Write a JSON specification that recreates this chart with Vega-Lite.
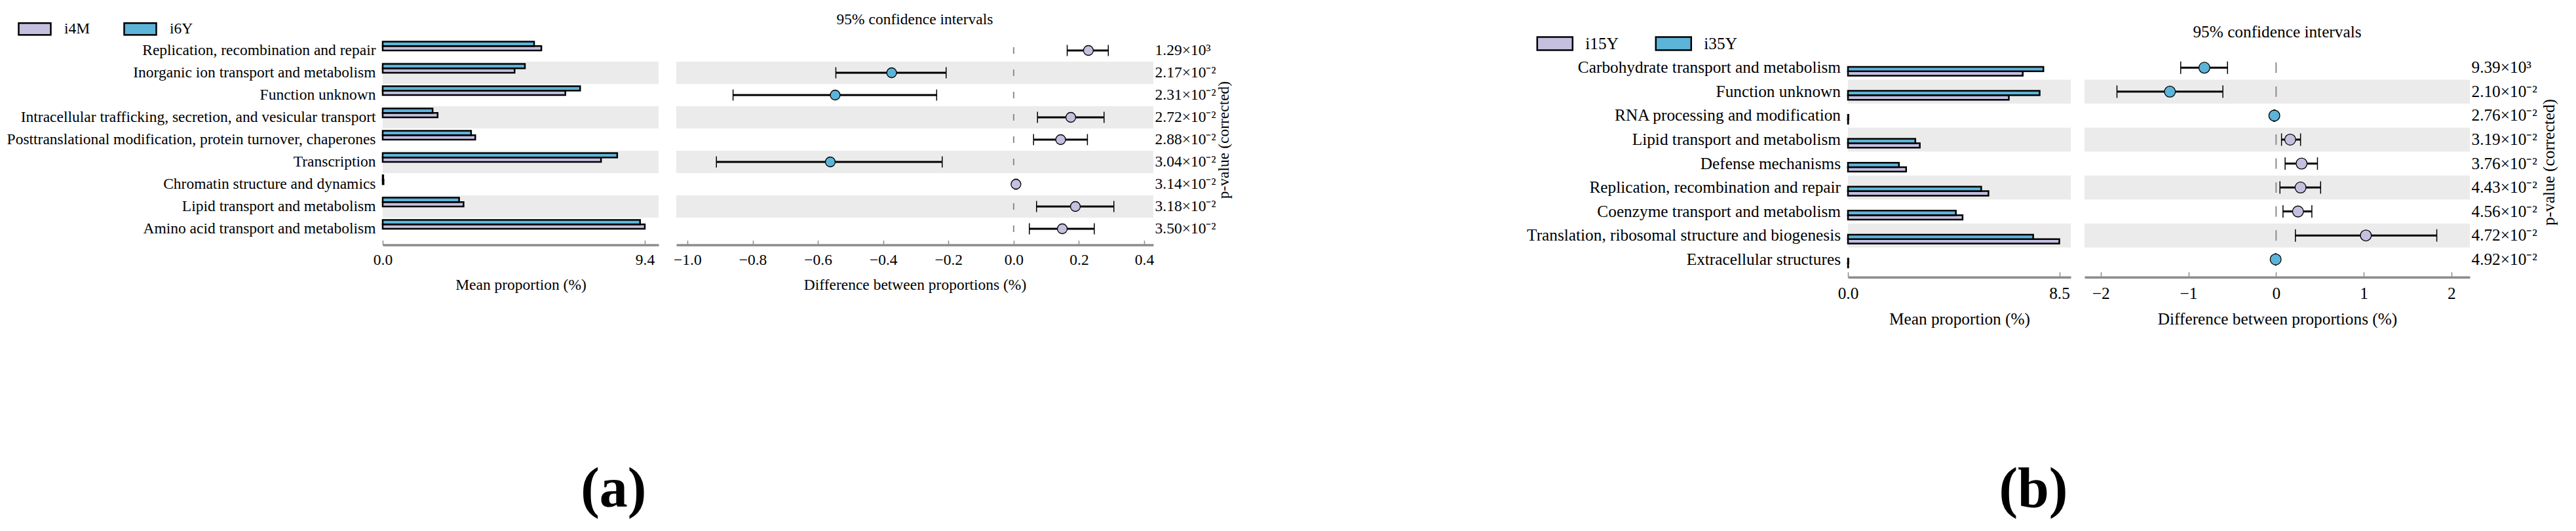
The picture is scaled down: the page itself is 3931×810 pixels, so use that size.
{
  "$schema": "https://vega.github.io/schema/vega-lite/v6.json",
  "padding": {"left": 10, "top": 16, "right": 5, "bottom": 5},
  "spacing": 450,
  "resolve": {"scale": {"fill": "independent"}, "legend": {"fill": "independent"}},
  "config": {
    "view": {"stroke": null},
    "font": "Liberation Serif",
    "axis": {"domainColor": "#8c8c8c", "domainWidth": 3.5, "tickColor": "#8c8c8c", "tickWidth": 1.5, "grid": false, "labelFlush": false, "labelColor": "black", "titleColor": "black", "titleFontWeight": "normal", "labelFont": "Liberation Serif", "titleFont": "Liberation Serif"},
    "title": {"font": "Liberation Serif", "fontWeight": "normal", "color": "black"},
    "legend": {"labelFont": "Liberation Serif", "labelColor": "black"}
  },
  "datasets": {
    "a_bar": [
      {"category": "Replication, recombination and repair", "group": "i4M", "value": 5.69},
      {"category": "Replication, recombination and repair", "group": "i6Y", "value": 5.43},
      {"category": "Inorganic ion transport and metabolism", "group": "i4M", "value": 4.73},
      {"category": "Inorganic ion transport and metabolism", "group": "i6Y", "value": 5.10},
      {"category": "Function unknown", "group": "i4M", "value": 6.55},
      {"category": "Function unknown", "group": "i6Y", "value": 7.08},
      {"category": "Intracellular trafficking, secretion, and vesicular transport", "group": "i4M", "value": 1.97},
      {"category": "Intracellular trafficking, secretion, and vesicular transport", "group": "i6Y", "value": 1.79},
      {"category": "Posttranslational modification, protein turnover, chaperones", "group": "i4M", "value": 3.32},
      {"category": "Posttranslational modification, protein turnover, chaperones", "group": "i6Y", "value": 3.17},
      {"category": "Transcription", "group": "i4M", "value": 7.83},
      {"category": "Transcription", "group": "i6Y", "value": 8.41},
      {"category": "Chromatin structure and dynamics", "group": "i4M", "value": 0.03},
      {"category": "Chromatin structure and dynamics", "group": "i6Y", "value": 0.02},
      {"category": "Lipid transport and metabolism", "group": "i4M", "value": 2.90},
      {"category": "Lipid transport and metabolism", "group": "i6Y", "value": 2.74},
      {"category": "Amino acid transport and metabolism", "group": "i4M", "value": 9.40},
      {"category": "Amino acid transport and metabolism", "group": "i6Y", "value": 9.23}
    ],
    "a_ci": [
      {"category": "Replication, recombination and repair", "pval": "1.29×10³", "diff": 0.229, "lo": 0.164, "hi": 0.290, "grp": "i4M", "shade": 0},
      {"category": "Inorganic ion transport and metabolism", "pval": "2.17×10⁻²", "diff": -0.374, "lo": -0.545, "hi": -0.207, "grp": "i6Y", "shade": 1},
      {"category": "Function unknown", "pval": "2.31×10⁻²", "diff": -0.547, "lo": -0.860, "hi": -0.236, "grp": "i6Y", "shade": 0},
      {"category": "Intracellular trafficking, secretion, and vesicular transport", "pval": "2.72×10⁻²", "diff": 0.175, "lo": 0.073, "hi": 0.277, "grp": "i4M", "shade": 1},
      {"category": "Posttranslational modification, protein turnover, chaperones", "pval": "2.88×10⁻²", "diff": 0.144, "lo": 0.061, "hi": 0.226, "grp": "i4M", "shade": 0},
      {"category": "Transcription", "pval": "3.04×10⁻²", "diff": -0.562, "lo": -0.911, "hi": -0.219, "grp": "i6Y", "shade": 1},
      {"category": "Chromatin structure and dynamics", "pval": "3.14×10⁻²", "diff": 0.007, "lo": 0.004, "hi": 0.010, "grp": "i4M", "shade": 0},
      {"category": "Lipid transport and metabolism", "pval": "3.18×10⁻²", "diff": 0.189, "lo": 0.070, "hi": 0.307, "grp": "i4M", "shade": 1},
      {"category": "Amino acid transport and metabolism", "pval": "3.50×10⁻²", "diff": 0.149, "lo": 0.048, "hi": 0.247, "grp": "i4M", "shade": 0}
    ],
    "b_bar": [
      {"category": "Carbohydrate transport and metabolism", "group": "i15Y", "value": 7.03},
      {"category": "Carbohydrate transport and metabolism", "group": "i35Y", "value": 7.86},
      {"category": "Function unknown", "group": "i15Y", "value": 6.47},
      {"category": "Function unknown", "group": "i35Y", "value": 7.71},
      {"category": "RNA processing and modification", "group": "i15Y", "value": 0.01},
      {"category": "RNA processing and modification", "group": "i35Y", "value": 0.02},
      {"category": "Lipid transport and metabolism", "group": "i15Y", "value": 2.89},
      {"category": "Lipid transport and metabolism", "group": "i35Y", "value": 2.71},
      {"category": "Defense mechanisms", "group": "i15Y", "value": 2.34},
      {"category": "Defense mechanisms", "group": "i35Y", "value": 2.05},
      {"category": "Replication, recombination and repair", "group": "i15Y", "value": 5.65},
      {"category": "Replication, recombination and repair", "group": "i35Y", "value": 5.36},
      {"category": "Coenzyme transport and metabolism", "group": "i15Y", "value": 4.61},
      {"category": "Coenzyme transport and metabolism", "group": "i35Y", "value": 4.34},
      {"category": "Translation, ribosomal structure and biogenesis", "group": "i15Y", "value": 8.50},
      {"category": "Translation, ribosomal structure and biogenesis", "group": "i35Y", "value": 7.45},
      {"category": "Extracellular structures", "group": "i15Y", "value": 0.01},
      {"category": "Extracellular structures", "group": "i35Y", "value": 0.02}
    ],
    "b_ci": [
      {"category": "Carbohydrate transport and metabolism", "pval": "9.39×10³", "diff": -0.818, "lo": -1.088, "hi": -0.554, "grp": "i35Y", "shade": 0},
      {"category": "Function unknown", "pval": "2.10×10⁻²", "diff": -1.211, "lo": -1.815, "hi": -0.607, "grp": "i35Y", "shade": 1},
      {"category": "RNA processing and modification", "pval": "2.76×10⁻²", "diff": -0.020, "lo": -0.025, "hi": -0.015, "grp": "i35Y", "shade": 0},
      {"category": "Lipid transport and metabolism", "pval": "3.19×10⁻²", "diff": 0.161, "lo": 0.062, "hi": 0.279, "grp": "i15Y", "shade": 1},
      {"category": "Defense mechanisms", "pval": "3.76×10⁻²", "diff": 0.291, "lo": 0.103, "hi": 0.472, "grp": "i15Y", "shade": 0},
      {"category": "Replication, recombination and repair", "pval": "4.43×10⁻²", "diff": 0.279, "lo": 0.044, "hi": 0.508, "grp": "i15Y", "shade": 1},
      {"category": "Coenzyme transport and metabolism", "pval": "4.56×10⁻²", "diff": 0.250, "lo": 0.079, "hi": 0.408, "grp": "i15Y", "shade": 0},
      {"category": "Translation, ribosomal structure and biogenesis", "pval": "4.72×10⁻²", "diff": 1.024, "lo": 0.220, "hi": 1.833, "grp": "i15Y", "shade": 1},
      {"category": "Extracellular structures", "pval": "4.92×10⁻²", "diff": -0.005, "lo": -0.008, "hi": -0.002, "grp": "i35Y", "shade": 0}
    ]
  },
  "hconcat": [
    {
      "vconcat": [
        {"width": 1, "height": 1, "data": {"values": []}, "mark": "point"},
        {
          "hconcat": [
            {
              "width": 421, "height": 306,
              "encoding": {
                "y": {"field": "category", "type": "nominal",
                  "scale": {"domain": ["Replication, recombination and repair", "Inorganic ion transport and metabolism", "Function unknown", "Intracellular trafficking, secretion, and vesicular transport", "Posttranslational modification, protein turnover, chaperones", "Transcription", "Chromatin structure and dynamics", "Lipid transport and metabolism", "Amino acid transport and metabolism"], "paddingInner": 0, "paddingOuter": 0},
                  "axis": {"title": null, "labelFontSize": 23.5, "labelPadding": 11, "ticks": false, "domain": false, "labelLimit": 800}}
              },
              "layer": [
                {
                  "data": {"name": "a_ci"},
                  "transform": [{"filter": "datum.shade == 1"}],
                  "mark": {"type": "bar", "color": "#ebebeb"},
                  "encoding": {
                    "x": {"datum": 0, "type": "quantitative", "scale": {"domain": [0, 9.894], "nice": false, "zero": false},
                      "axis": {"values": [0, 9.4], "format": ".1f", "title": "Mean proportion (%)", "labelFontSize": 23.5, "titleFontSize": 23.5, "tickSize": -7, "offset": 7.5, "labelPadding": 17.7, "titlePadding": 14.9}},
                    "x2": {"datum": 9.894}
                  }
                },
                {
                  "data": {"name": "a_bar"},
                  "mark": {"type": "bar", "stroke": "black", "strokeWidth": 2.5},
                  "encoding": {
                    "x": {"field": "value", "type": "quantitative", "scale": {"domain": [0, 9.894], "nice": false, "zero": false},
                      "axis": {"values": [0, 9.4], "format": ".1f", "title": "Mean proportion (%)", "labelFontSize": 23.5, "titleFontSize": 23.5, "tickSize": -7, "offset": 7.5, "labelPadding": 17.7, "titlePadding": 14.9}},
                    "yOffset": {"field": "group", "type": "nominal", "scale": {"domain": ["i6Y", "i4M"], "paddingOuter": 0.5, "paddingInner": 0}},
                    "fill": {"field": "group", "type": "nominal", "scale": {"domain": ["i4M", "i6Y"], "range": ["#c5bfe0", "#5cb4d8"]},
                      "legend": {"orient": "none", "legendX": -557, "legendY": -41.8, "direction": "horizontal", "title": null, "symbolType": "M-1,-0.367H1V0.367H-1Z", "symbolSize": 2401, "symbolStrokeColor": "black", "symbolStrokeWidth": 2.5, "symbolOpacity": 1, "labelFontSize": 23.5, "labelOffset": 19, "columnPadding": 46}}
                  }
                }
              ]
            },
            {
              "width": 728, "height": 306,
              "data": {"name": "a_ci"},
              "title": {"text": "95% confidence intervals", "offset": 19, "fontSize": 23.5, "anchor": "middle"},
              "encoding": {
                "y": {"field": "pval", "type": "nominal",
                  "scale": {"domain": ["1.29×10³", "2.17×10⁻²", "2.31×10⁻²", "2.72×10⁻²", "2.88×10⁻²", "3.04×10⁻²", "3.14×10⁻²", "3.18×10⁻²", "3.50×10⁻²"], "paddingInner": 0, "paddingOuter": 0},
                  "axis": {"orient": "right", "title": "p-value (corrected)", "titleAngle": 270, "titleBaseline": "top", "titleAlign": "center", "titleFontSize": 23.5, "titleX": 95, "titleY": 153, "labelFontSize": 23.5, "labelPadding": 2, "ticks": false, "domain": false, "labelLimit": 300}}
              },
              "layer": [
                {
                  "transform": [{"filter": "datum.shade == 1"}],
                  "mark": {"type": "bar", "color": "#ebebeb"},
                  "encoding": {
                    "x": {"datum": -1.034, "type": "quantitative", "scale": {"domain": [-1.034, 0.428], "nice": false, "zero": false},
                      "axis": {"values": [-1, -0.8, -0.6, -0.4, -0.2, 0, 0.2, 0.4], "format": ".1f", "title": "Difference between proportions (%)", "labelFontSize": 23.5, "titleFontSize": 23.5, "tickSize": -7, "offset": 7.5, "labelPadding": 17.7, "titlePadding": 14.9}},
                    "x2": {"datum": 0.428}
                  }
                },
                {
                  "mark": {"type": "tick", "color": "#8c8c8c", "thickness": 2, "size": 10, "opacity": 1},
                  "encoding": {"x": {"datum": 0, "type": "quantitative", "scale": {"domain": [-1.034, 0.428], "nice": false, "zero": false}}}
                },
                {
                  "mark": {"type": "rule", "color": "black", "strokeWidth": 3},
                  "encoding": {"x": {"field": "lo", "type": "quantitative", "scale": {"domain": [-1.034, 0.428], "nice": false, "zero": false}}, "x2": {"field": "hi"}}
                },
                {
                  "mark": {"type": "tick", "color": "black", "thickness": 1.5, "size": 17, "opacity": 1},
                  "encoding": {"x": {"field": "lo", "type": "quantitative", "scale": {"domain": [-1.034, 0.428], "nice": false, "zero": false}}}
                },
                {
                  "mark": {"type": "tick", "color": "black", "thickness": 1.5, "size": 17, "opacity": 1},
                  "encoding": {"x": {"field": "hi", "type": "quantitative", "scale": {"domain": [-1.034, 0.428], "nice": false, "zero": false}}}
                },
                {
                  "mark": {"type": "point", "shape": "circle", "filled": true, "size": 225, "stroke": "black", "strokeWidth": 1.3, "opacity": 1},
                  "encoding": {
                    "x": {"field": "diff", "type": "quantitative", "scale": {"domain": [-1.034, 0.428], "nice": false, "zero": false}},
                    "fill": {"field": "grp", "type": "nominal", "scale": {"domain": ["i4M", "i6Y"], "range": ["#c5bfe0", "#5cb4d8"]}, "legend": null}
                  }
                }
              ]
            }
          ],
          "spacing": 27,
          "bounds": "flush",
          "resolve": {"scale": {"fill": "independent"}, "legend": {"fill": "independent"}},
          "title": {"text": "(a)", "orient": "bottom", "offset": 259, "fontSize": 86, "fontWeight": "bold", "anchor": "middle", "dx": -8}
        }
      ],
      "spacing": 0,
      "resolve": {"scale": {"fill": "independent"}, "legend": {"fill": "independent"}}
    },
    {
      "vconcat": [
        {"width": 1, "height": 21, "data": {"values": []}, "mark": "point"},
        {
          "hconcat": [
            {
              "width": 340, "height": 329,
              "encoding": {
                "y": {"field": "category", "type": "nominal",
                  "scale": {"domain": ["Carbohydrate transport and metabolism", "Function unknown", "RNA processing and modification", "Lipid transport and metabolism", "Defense mechanisms", "Replication, recombination and repair", "Coenzyme transport and metabolism", "Translation, ribosomal structure and biogenesis", "Extracellular structures"], "paddingInner": 0, "paddingOuter": 0},
                  "axis": {"title": null, "labelFontSize": 25.3, "labelPadding": 11.5, "ticks": false, "domain": false, "labelLimit": 800}}
              },
              "layer": [
                {
                  "data": {"name": "b_ci"},
                  "transform": [{"filter": "datum.shade == 1"}],
                  "mark": {"type": "bar", "color": "#ebebeb"},
                  "encoding": {
                    "x": {"datum": 0, "type": "quantitative", "scale": {"domain": [0, 8.961], "nice": false, "zero": false},
                      "axis": {"values": [0, 8.5], "format": ".1f", "title": "Mean proportion (%)", "labelFontSize": 25.3, "titleFontSize": 25.3, "tickSize": -8, "offset": 8.8, "labelPadding": 20.4, "titlePadding": 14.2}},
                    "x2": {"datum": 8.961}
                  }
                },
                {
                  "data": {"name": "b_bar"},
                  "mark": {"type": "bar", "stroke": "black", "strokeWidth": 2.5},
                  "encoding": {
                    "x": {"field": "value", "type": "quantitative", "scale": {"domain": [0, 8.961], "nice": false, "zero": false},
                      "axis": {"values": [0, 8.5], "format": ".1f", "title": "Mean proportion (%)", "labelFontSize": 25.3, "titleFontSize": 25.3, "tickSize": -8, "offset": 8.8, "labelPadding": 20.4, "titlePadding": 14.2}},
                    "yOffset": {"field": "group", "type": "nominal", "scale": {"domain": ["i35Y", "i15Y"], "paddingOuter": 0.41, "paddingInner": 0}},
                    "fill": {"field": "group", "type": "nominal", "scale": {"domain": ["i15Y", "i35Y"], "range": ["#c5bfe0", "#5cb4d8"]},
                      "legend": {"orient": "none", "legendX": -475.7, "legendY": -47.2, "direction": "horizontal", "title": null, "symbolType": "M-1,-0.37H1V0.37H-1Z", "symbolSize": 2916, "symbolStrokeColor": "black", "symbolStrokeWidth": 2.5, "symbolOpacity": 1, "labelFontSize": 25.3, "labelOffset": 18, "columnPadding": 51}}
                  }
                }
              ]
            },
            {
              "width": 588, "height": 329,
              "data": {"name": "b_ci"},
              "title": {"text": "95% confidence intervals", "offset": 22.6, "fontSize": 25.3, "anchor": "middle"},
              "encoding": {
                "y": {"field": "pval", "type": "nominal",
                  "scale": {"domain": ["9.39×10³", "2.10×10⁻²", "2.76×10⁻²", "3.19×10⁻²", "3.76×10⁻²", "4.43×10⁻²", "4.56×10⁻²", "4.72×10⁻²", "4.92×10⁻²"], "paddingInner": 0, "paddingOuter": 0},
                  "axis": {"orient": "right", "title": "p-value (corrected)", "titleAngle": 270, "titleBaseline": "top", "titleAlign": "center", "titleFontSize": 25.3, "titleX": 108, "titleY": 162, "labelFontSize": 25.3, "labelPadding": 2, "ticks": false, "domain": false, "labelLimit": 300}}
              },
              "layer": [
                {
                  "transform": [{"filter": "datum.shade == 1"}],
                  "mark": {"type": "bar", "color": "#ebebeb"},
                  "encoding": {
                    "x": {"datum": -2.185, "type": "quantitative", "scale": {"domain": [-2.185, 2.21], "nice": false, "zero": false},
                      "axis": {"values": [-2, -1, 0, 1, 2], "format": "d", "title": "Difference between proportions (%)", "labelFontSize": 25.3, "titleFontSize": 25.3, "tickSize": -8, "offset": 8.8, "labelPadding": 20.4, "titlePadding": 14.2}},
                    "x2": {"datum": 2.21}
                  }
                },
                {
                  "mark": {"type": "tick", "color": "#8c8c8c", "thickness": 2, "size": 16, "opacity": 1},
                  "encoding": {"x": {"datum": 0, "type": "quantitative", "scale": {"domain": [-2.185, 2.21], "nice": false, "zero": false}}}
                },
                {
                  "mark": {"type": "rule", "color": "black", "strokeWidth": 3},
                  "encoding": {"x": {"field": "lo", "type": "quantitative", "scale": {"domain": [-2.185, 2.21], "nice": false, "zero": false}}, "x2": {"field": "hi"}}
                },
                {
                  "mark": {"type": "tick", "color": "black", "thickness": 1.5, "size": 19, "opacity": 1},
                  "encoding": {"x": {"field": "lo", "type": "quantitative", "scale": {"domain": [-2.185, 2.21], "nice": false, "zero": false}}}
                },
                {
                  "mark": {"type": "tick", "color": "black", "thickness": 1.5, "size": 19, "opacity": 1},
                  "encoding": {"x": {"field": "hi", "type": "quantitative", "scale": {"domain": [-2.185, 2.21], "nice": false, "zero": false}}}
                },
                {
                  "mark": {"type": "point", "shape": "circle", "filled": true, "size": 280, "stroke": "black", "strokeWidth": 1.3, "opacity": 1},
                  "encoding": {
                    "x": {"field": "diff", "type": "quantitative", "scale": {"domain": [-2.185, 2.21], "nice": false, "zero": false}},
                    "fill": {"field": "grp", "type": "nominal", "scale": {"domain": ["i15Y", "i35Y"], "range": ["#c5bfe0", "#5cb4d8"]}, "legend": null}
                  }
                }
              ]
            }
          ],
          "spacing": 21,
          "bounds": "flush",
          "resolve": {"scale": {"fill": "independent"}, "legend": {"fill": "independent"}},
          "title": {"text": "(b)", "orient": "bottom", "offset": 205, "fontSize": 86, "fontWeight": "bold", "anchor": "middle", "dx": -13}
        }
      ],
      "spacing": 0,
      "resolve": {"scale": {"fill": "independent"}, "legend": {"fill": "independent"}}
    }
  ]
}
